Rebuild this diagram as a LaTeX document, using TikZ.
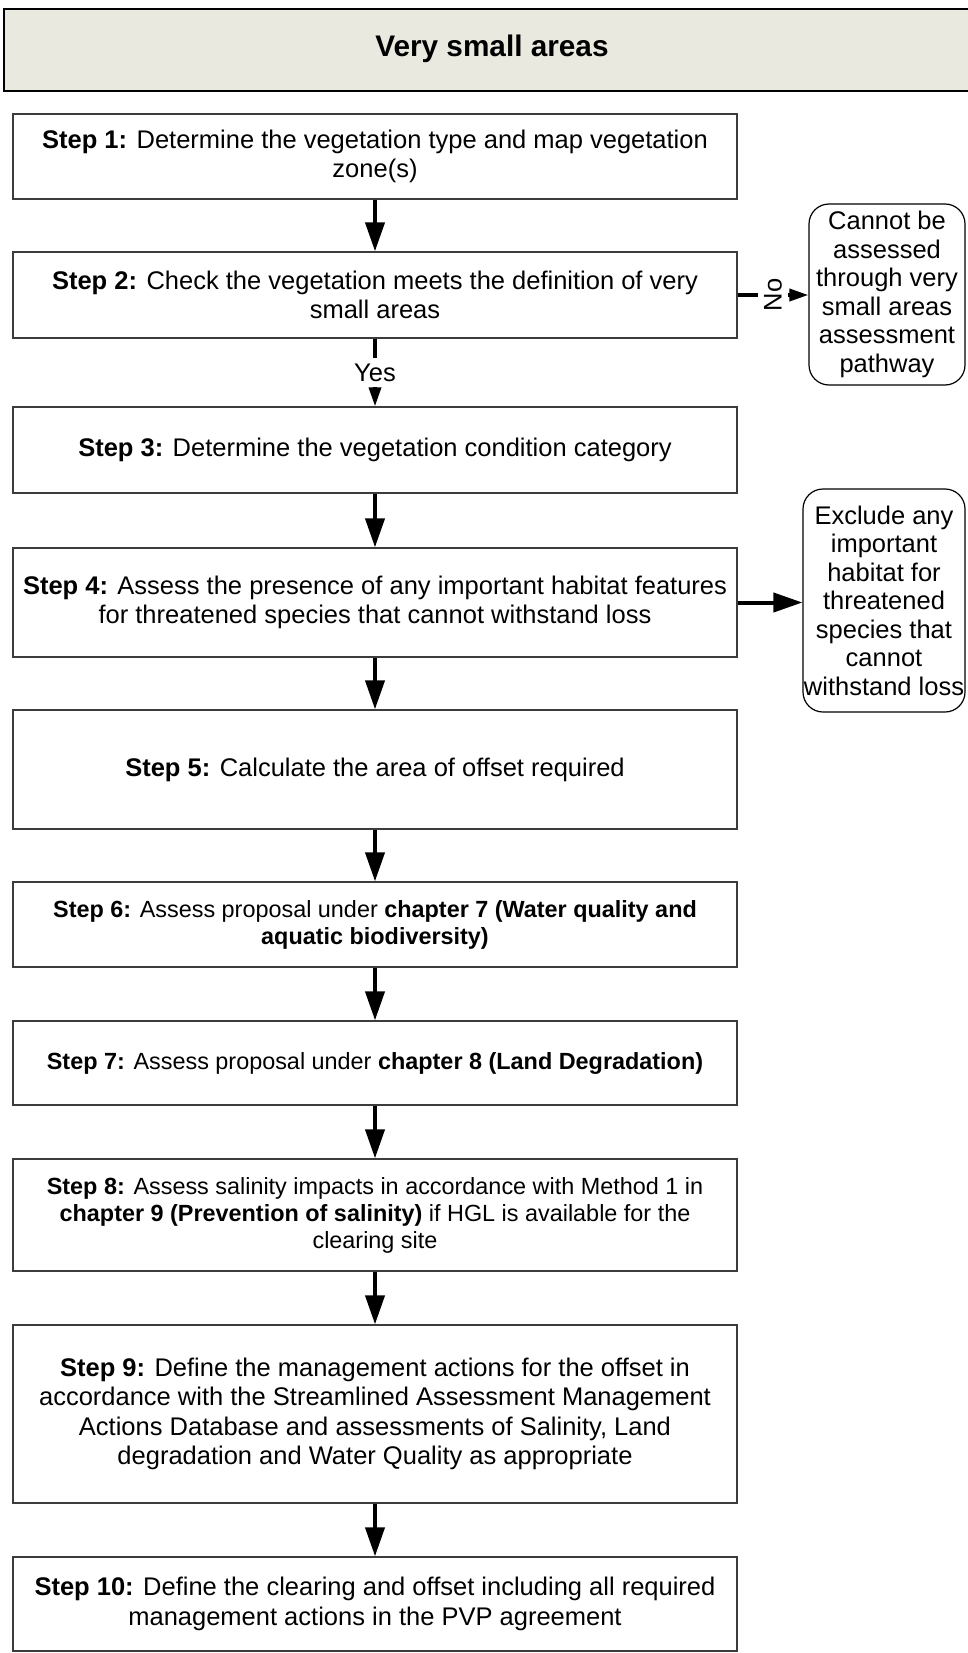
\documentclass[tikz,border=0pt]{standalone}
\usepackage{fontspec}
\setmainfont{Liberation Sans}
\usetikzlibrary{arrows.meta}
\definecolor{boxline}{HTML}{3C3C3C}
\definecolor{headfill}{HTML}{E9E9DF}
\begin{document}
\begin{tikzpicture}[x=1pt,y=-1pt,
  stepbox/.style={draw=boxline, line width=1.3pt, minimum width=724pt,
    align=center, inner sep=0pt, font=\fontsize{25.5}{29.3}\selectfont},
  smallstep/.style={stepbox, font=\fontsize{23.4}{27}\selectfont},
  endbox/.style={draw=black, line width=1.2pt, rounded corners=20pt,
    align=center, inner sep=0pt, font=\fontsize{25.5}{28.5}\selectfont},
  bigarrow/.style={line width=4pt, -{Triangle[length=29pt,width=19pt]}},
  smallarrow/.style={line width=3.5pt, -{Triangle[length=19pt,width=12pt]}},
  branch/.style={fill=white, inner sep=6pt, font=\fontsize{25.5}{29.3}\selectfont}]
\useasboundingbox (0,0) rectangle (967,1653);
\fill[white] (0,0) rectangle (967,1653);

% title band
\draw[fill=headfill, line width=1.5pt] (4,9) rectangle (972,91);
\node[font=\bfseries\fontsize{29.75}{34}\selectfont] (title) at (492,49) {Very small areas};

% step boxes
\node[stepbox, minimum height=85pt] (s1) at (375,156.5)
  {\textbf{Step 1:} Determine the vegetation type and map vegetation\\zone(s)};
\node[stepbox, minimum height=86pt] (s2) at (375,295)
  {\textbf{Step 2:} Check the vegetation meets the definition of very\\small areas};
\node[stepbox, minimum height=86pt] (s3) at (375,450)
  {\textbf{Step 3:} Determine the vegetation condition category};
\node[stepbox, minimum height=109pt] (s4) at (375,602.5)
  {\textbf{Step 4:} Assess the presence of any important habitat features\\for threatened species that cannot withstand loss};
\node[stepbox, minimum height=119pt] (s5) at (375,769.5)
  {\textbf{Step 5:} Calculate the area of offset required};
\node[smallstep, minimum height=85pt] (s6) at (375,924.5)
  {\textbf{Step 6:} Assess proposal under \textbf{chapter 7 (Water quality and}\\\textbf{aquatic biodiversity)}};
\node[smallstep, minimum height=84pt] (s7) at (375,1063)
  {\textbf{Step 7:} Assess proposal under \textbf{chapter 8 (Land Degradation)}};
\node[smallstep, minimum height=112pt] (s8) at (375,1215)
  {\textbf{Step 8:} Assess salinity impacts in accordance with Method 1 in\\\textbf{chapter 9 (Prevention of salinity)} if HGL is available for the\\clearing site};
\node[stepbox, minimum height=178pt] (s9) at (375,1414)
  {\textbf{Step 9:} Define the management actions for the offset in\\accordance with the Streamlined Assessment Management\\Actions Database and assessments of Salinity, Land\\degradation and Water Quality as appropriate};
\node[stepbox, minimum height=94pt] (s10) at (375,1604)
  {\textbf{Step 10:} Define the clearing and offset including all required\\management actions in the PVP agreement};

% side outcomes
\node[endbox, minimum width=156pt, minimum height=181pt] (cannot) at (887,294.5)
  {Cannot be\\assessed\\through very\\small areas\\assessment\\pathway};
\node[endbox, minimum width=162pt, minimum height=223pt] (exclude) at (884,600.5)
  {Exclude any\\important\\habitat for\\threatened\\species that\\cannot\\withstand loss};

% main flow
\draw[bigarrow] (s1.south) -- (s2.north);
\draw[smallarrow] (s2.south) -- node[branch] {Yes} (s3.north);
\draw[bigarrow] (s3.south) -- (s4.north);
\draw[bigarrow] (s4.south) -- (s5.north);
\draw[bigarrow] (s5.south) -- (s6.north);
\draw[bigarrow] (s6.south) -- (s7.north);
\draw[bigarrow] (s7.south) -- (s8.north);
\draw[bigarrow] (s8.south) -- (s9.north);
\draw[bigarrow] (s9.south) -- (s10.north);

% branches to the right
\draw[smallarrow] (s2.east) -- node[branch, rotate=90] {No} (s2.east -| cannot.west);
\draw[bigarrow] (s4.east) -- (s4.east -| exclude.west);
\end{tikzpicture}
\end{document}
